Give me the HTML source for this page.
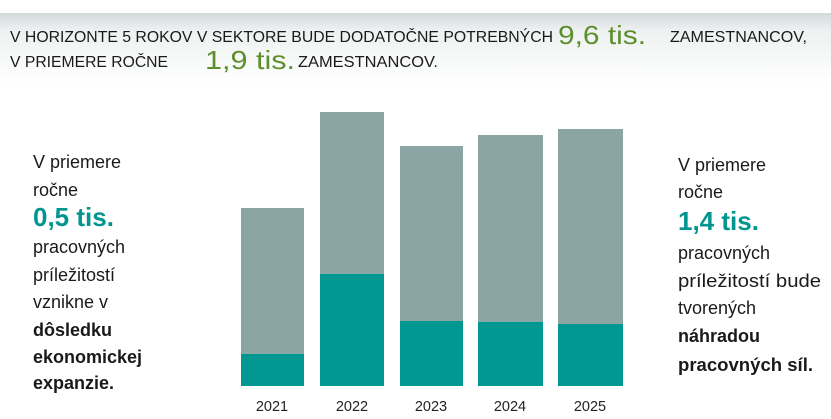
<!DOCTYPE html>
<html><head><meta charset="utf-8"><style>
html,body{margin:0;padding:0;background:#fff;}
svg{display:block;}
text{font-family:"Liberation Sans",sans-serif;}
</style></head><body>
<svg width="831" height="419" viewBox="0 0 831 419" xmlns="http://www.w3.org/2000/svg">
<defs>
<linearGradient id="hg" x1="0" y1="0" x2="0" y2="1">
<stop offset="0" stop-color="#d4dada"/><stop offset="0.25" stop-color="#eef1f1"/><stop offset="1" stop-color="#ffffff"/>
</linearGradient>
</defs>
<rect x="0" y="13" width="831" height="70" fill="url(#hg)"/>
<g fill="#1a1a1a" font-size="16">
<text x="10" y="42" textLength="543" lengthAdjust="spacingAndGlyphs">V HORIZONTE 5 ROKOV V SEKTORE BUDE DODATOČNE POTREBNÝCH</text>
<text x="670" y="42" textLength="137" lengthAdjust="spacingAndGlyphs">ZAMESTNANCOV,</text>
<text x="10" y="67" textLength="158" lengthAdjust="spacingAndGlyphs">V PRIEMERE ROČNE</text>
<text x="298" y="67" textLength="140" lengthAdjust="spacingAndGlyphs">ZAMESTNANCOV.</text>
</g>
<g fill="#5e8f2e" font-size="26">
<text x="558" y="44" textLength="88" lengthAdjust="spacingAndGlyphs">9,6 tis.</text>
<text x="205" y="69" textLength="90" lengthAdjust="spacingAndGlyphs">1,9 tis.</text>
</g>
<g fill="#8ba4a4">
<rect x="241" y="208" width="63" height="178"/>
<rect x="320" y="112" width="64" height="274"/>
<rect x="400" y="146" width="63" height="240"/>
<rect x="478" y="135" width="65" height="251"/>
<rect x="558" y="129" width="65" height="257"/>
</g>
<g fill="#009891">
<rect x="241" y="354" width="63" height="32"/>
<rect x="320" y="274" width="64" height="112"/>
<rect x="400" y="321" width="63" height="65"/>
<rect x="478" y="322" width="65" height="64"/>
<rect x="558" y="324" width="65" height="62"/>
</g>
<g fill="#222" font-size="14.5" text-anchor="middle">
<text x="272" y="411">2021</text><text x="352" y="411">2022</text><text x="431" y="411">2023</text><text x="510" y="411">2024</text><text x="590" y="411">2025</text>
</g>
<g fill="#1a1a1a" font-size="18">
<text x="33" y="168">V priemere</text>
<text x="33" y="196">ročne</text>
<text x="33" y="226" fill="#00968f" font-size="26" font-weight="bold">0,5 tis.</text>
<text x="33" y="253">pracovných</text>
<text x="33" y="281">príležitostí</text>
<text x="33" y="308">vznikne v</text>
<text x="33" y="336" font-weight="bold">dôsledku</text>
<text x="33" y="363" font-weight="bold">ekonomickej</text>
<text x="33" y="389" font-weight="bold">expanzie.</text>
<text x="678" y="171">V priemere</text>
<text x="678" y="198">ročne</text>
<text x="678" y="230" fill="#00968f" font-size="26" font-weight="bold">1,4 tis.</text>
<text x="678" y="259">pracovných</text>
<text x="678" y="287" textLength="143" lengthAdjust="spacingAndGlyphs">príležitostí bude</text>
<text x="678" y="314">tvorených</text>
<text x="678" y="342" font-weight="bold">náhradou</text>
<text x="678" y="371" font-weight="bold" textLength="135" lengthAdjust="spacingAndGlyphs">pracovných síl.</text>
</g>
</svg>
</body></html>
